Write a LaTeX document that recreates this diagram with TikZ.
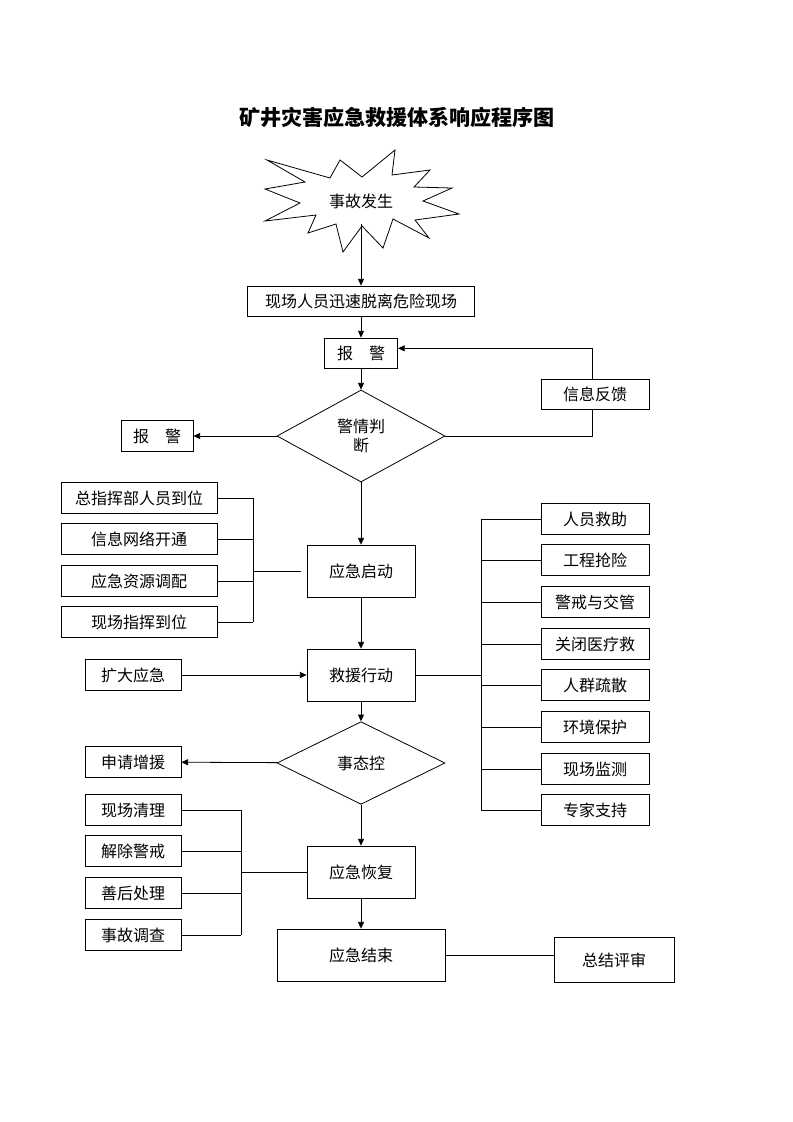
\documentclass[tikz,border=0pt]{standalone}
\usepackage{fontspec}
\setmainfont{Noto Sans CJK SC}
\usetikzlibrary{shapes.geometric,arrows.meta}

\tikzset{
  link/.style={line width=0.6pt},
  flow/.style={link,-{Triangle[length=5pt,width=4.5pt]}},
  box/.style={draw,link,minimum width=81pt,minimum height=23pt,inner sep=1pt,
    font=\fontsize{12pt}{14pt}\selectfont},
  bigbox/.style={box,minimum height=39pt},
  smallbox/.style={box,minimum width=72pt},
  widebox/.style={box,minimum width=117pt},
  decision/.style={draw,link,diamond,minimum width=126pt,inner sep=0pt,align=center,
    font=\fontsize{12pt}{14pt}\selectfont},
}

\begin{document}
\begin{tikzpicture}[x=0.75pt,y=-0.75pt]
\useasboundingbox (0,0) rectangle (793,1122);

% title
\node (title) at (397,117) {\fontsize{15.8pt}{20pt}\bfseries 矿井灾害应急救援体系响应程序图};

% accident burst
\draw[link] (267,160) -- (330,178) -- (340,160) -- (362,177) -- (395,150) -- (392,175)
  -- (430,170) -- (414,187) -- (452,188) -- (423,201) -- (459,214) -- (415,220)
  -- (429,238) -- (393,219) -- (383,248) -- (362,226) -- (343,252) -- (336,224)
  -- (308,233) -- (316,215) -- (265,221) -- (300,203) -- (265,189) -- (305,182) -- cycle;
\node[font=\fontsize{12pt}{14pt}\selectfont] (burst) at (361,201) {事故发生};
\coordinate (burst-s) at (361,224);

% main line
\node[box,minimum width=170pt,minimum height=22.5pt] (leave) at (361,301) {现场人员迅速脱离危险现场};
\node[box,minimum width=55pt,minimum height=22.5pt] (alarm) at (361,353) {报\quad 警};
\node[decision,minimum height=69pt] (judge) at (361,436) {警情判\\断};
\node[box,minimum width=54pt] (alarm-out) at (157,436) {报\quad 警};
\node[box,minimum height=22.5pt] (feedback) at (595,394) {信息反馈};
\node[bigbox] (start) at (361,571) {应急启动};
\node[bigbox] (rescue) at (361,675) {救援行动};
\node[decision,minimum height=62pt] (control) at (361,763) {事态控};
\node[bigbox] (recover) at (361,872) {应急恢复};
\node[bigbox,minimum width=126pt] (finish) at (361,955) {应急结束};
\node[box,minimum width=90pt,minimum height=34pt] (review) at (614,960) {总结评审};

% start measures
\node[widebox] (cmd) at (139,498) {总指挥部人员到位};
\node[widebox] (net) at (139,539) {信息网络开通};
\node[widebox] (res) at (139,581) {应急资源调配};
\node[widebox] (site) at (139,622) {现场指挥到位};

% rescue tasks
\node[box] (r1) at (595,519) {人员救助};
\node[box] (r2) at (595,560) {工程抢险};
\node[box] (r3) at (595,602) {警戒与交管};
\node[box] (r4) at (595,644) {关闭医疗救};
\node[box] (r5) at (595,685) {人群疏散};
\node[box] (r6) at (595,727) {环境保护};
\node[box] (r7) at (595,769) {现场监测};
\node[box] (r8) at (595,810) {专家支持};

\node[smallbox] (expand) at (133,675) {扩大应急};
\node[smallbox] (support) at (133,762) {申请增援};

% recovery measures
\node[smallbox] (clean) at (133,810) {现场清理};
\node[smallbox] (lift) at (133,851) {解除警戒};
\node[smallbox] (after) at (133,893) {善后处理};
\node[smallbox] (probe) at (133,935) {事故调查};

% arrows
\draw[flow] (burst-s) -- (leave);
\draw[flow] (leave) -- (alarm);
\draw[flow] (alarm) -- (judge);
\draw[flow] (judge) -- (alarm-out);
\draw[link] (judge.east) -- ([xshift=-2pt]judge.east -| feedback) -- ([xshift=-2pt]feedback.south);
\draw[flow] ([xshift=-2pt]feedback.north) |- ([yshift=3.5pt]alarm.east);
\draw[flow] (judge) -- (start);
\draw[flow] (start) -- (rescue);
\draw[flow] (expand) -- (rescue);
\draw[flow] (rescue) -- (control);
\draw[flow] (control) -- (support);
\draw[flow] (control) -- (recover);
\draw[flow] (recover) -- (finish);
\draw[link] (finish) -- (finish -| review.west);

% brackets
\coordinate (hub1) at (253,571);
\foreach \n in {cmd,net,res,site}
  \draw[link] (\n.east) -- (\n.east -| hub1);
\draw[link] (cmd.east -| hub1) -- (site.east -| hub1);
\draw[link] (hub1) -- ([xshift=-4pt]start.west);

\coordinate (hub2) at (481,675);
\draw[link] (rescue.east) -- (hub2);
\foreach \n in {r1,r2,r3,r4,r5,r6,r7,r8}
  \draw[link] (\n.west) -- (\n.west -| hub2);
\draw[link] (r1.west -| hub2) -- (r8.west -| hub2);

\coordinate (hub3) at (241,872);
\foreach \n in {clean,lift,after,probe}
  \draw[link] (\n.east) -- (\n.east -| hub3);
\draw[link] (clean.east -| hub3) -- (probe.east -| hub3);
\draw[link] (hub3) -- (recover.west);
\end{tikzpicture}
\end{document}
